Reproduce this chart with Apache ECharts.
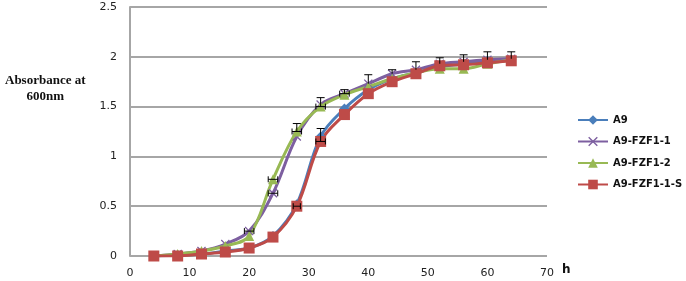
<!DOCTYPE html>
<html>
<head>
<meta charset="utf-8">
<script src="https://cdn.jsdelivr.net/npm/echarts@6/dist/echarts.min.js"></script>
<style>
  html, body { margin: 0; padding: 0; background: #fff; }
  #chart { width: 686px; height: 281px; }
</style>
</head>
<body>
<div id="chart"></div>
<script>
// sampling times (h)
var hours = [4, 8, 12, 16, 20, 24, 28, 32, 36, 40, 44, 48, 52, 56, 60, 64];

var a9       = [0, 0.01, 0.02, 0.05, 0.08, 0.2, 0.52, 1.2, 1.48, 1.67, 1.78, 1.84, 1.9, 1.93, 1.96, 1.97];
var fzf1_1   = [0, 0.02, 0.05, 0.12, 0.25, 0.63, 1.2, 1.52, 1.63, 1.73, 1.83, 1.87, 1.93, 1.95, 1.97, 1.98];
var fzf1_2   = [0, 0.02, 0.05, 0.1, 0.2, 0.77, 1.25, 1.5, 1.62, 1.7, 1.78, 1.84, 1.88, 1.88, 1.93, 1.97];
var fzf1_1s  = [0, 0, 0.02, 0.04, 0.08, 0.19, 0.5, 1.15, 1.42, 1.63, 1.75, 1.83, 1.91, 1.92, 1.94, 1.96];

// error bars: [hour, value, +yErr, ±xErr]
var errBars = [
  [20, 0.25, 0, 0.8],
  [24, 0.63, 0, 0.8],
  [24, 0.77, 0, 0.8],
  [28, 1.25, 0.08, 0.8],
  [28, 0.5, 0, 0.6],
  [32, 1.5, 0.09, 0.8],
  [32, 1.15, 0.13, 0.8],
  [36, 1.63, 0.04, 0.8],
  [40, 1.73, 0.09, 0],
  [44, 1.83, 0.04, 0],
  [48, 1.87, 0.08, 0],
  [52, 1.93, 0.06, 0],
  [56, 1.95, 0.07, 0],
  [60, 1.97, 0.08, 0],
  [64, 1.98, 0.07, 0]
];

var yTicks = { min: 0, max: 2.5, interval: 0.5 };
var xTicks = { min: 0, max: 70, interval: 10 };

function pairs(vals) {
  var out = [];
  for (var i = 0; i < hours.length; i++) out.push([hours[i], vals[i]]);
  return out;
}

var xMark = 'path://M0,1L1,0L5,4L9,0L10,1L6,5L10,9L9,10L5,6L1,10L0,9L4,5Z';

function lineSeries(name, vals, color, symbol, size) {
  return {
    name: name,
    type: 'line',
    data: pairs(vals),
    smooth: 0.35,
    symbol: symbol,
    symbolSize: size,
    lineStyle: { color: color, width: 3 },
    itemStyle: { color: color },
    emphasis: { disabled: true }
  };
}

var chart = echarts.init(document.getElementById('chart'));
chart.setOption({
  animation: false,
  grid: { left: 130, right: 139, top: 7, bottom: 25 },
  legend: {
    orient: 'vertical',
    left: 577,
    top: 115,
    padding: 0,
    itemWidth: 30,
    itemHeight: 12,
    itemGap: 11.5,
    textStyle: { fontFamily: 'DejaVu Sans', fontWeight: 'bold', fontSize: 10, color: '#111' },
    data: ['A9', 'A9-FZF1-1', 'A9-FZF1-2', 'A9-FZF1-1-S']
  },
  xAxis: {
    type: 'value',
    min: xTicks.min, max: xTicks.max, interval: xTicks.interval,
    axisLine: { show: false },
    axisTick: { show: false },
    splitLine: { show: false },
    axisLabel: { fontFamily: 'DejaVu Sans', fontSize: 11, color: '#222', margin: 12 }
  },
  yAxis: {
    type: 'value',
    min: yTicks.min, max: yTicks.max, interval: yTicks.interval,
    axisLine: { show: true, lineStyle: { color: '#a6a6a6', width: 2 } },
    axisTick: { show: false },
    splitLine: { show: true, lineStyle: { color: '#a6a6a6', width: 2 } },
    axisLabel: { fontFamily: 'DejaVu Sans', fontSize: 11, color: '#222', margin: 13 }
  },
  graphic: [
    { type: 'text', left: 5, top: 73,
      style: { text: 'Absorbance at\n600nm', textAlign: 'center', fill: '#111',
               font: 'bold 13px "Liberation Serif"', lineHeight: 16, x: 43 } },
    { type: 'text', left: 562, top: 264,
      style: { text: 'h', fill: '#111', font: 'bold 12px "DejaVu Sans"' } }
  ],
  series: [
    lineSeries('A9', a9, '#4a7ebb', 'diamond', 10),
    lineSeries('A9-FZF1-1', fzf1_1, '#7d5fa0', xMark, 9),
    lineSeries('A9-FZF1-2', fzf1_2, '#98b954', 'triangle', 10),
    lineSeries('A9-FZF1-1-S', fzf1_1s, '#be4b48', 'rect', 11),
    {
      type: 'custom',
      name: 'err',
      data: errBars,
      z: 5,
      silent: true,
      renderItem: function (params, api) {
        var x = api.value(0), y = api.value(1), ey = api.value(2), ex = api.value(3);
        var c = api.coord([x, y]);
        var kids = [];
        var st = { stroke: '#000', lineWidth: 1 };
        if (ey > 0) {
          var top = api.coord([x, y + ey]);
          kids.push({ type: 'line', shape: { x1: c[0], y1: c[1], x2: top[0], y2: top[1] }, style: st });
          kids.push({ type: 'line', shape: { x1: top[0] - 4, y1: top[1], x2: top[0] + 4, y2: top[1] }, style: st });
        }
        if (ex > 0) {
          var l = api.coord([x - ex, y]), r = api.coord([x + ex, y]);
          kids.push({ type: 'line', shape: { x1: l[0], y1: l[1], x2: r[0], y2: r[1] }, style: st });
          kids.push({ type: 'line', shape: { x1: l[0], y1: l[1] - 3, x2: l[0], y2: l[1] + 3 }, style: st });
          kids.push({ type: 'line', shape: { x1: r[0], y1: r[1] - 3, x2: r[0], y2: r[1] + 3 }, style: st });
        }
        return { type: 'group', children: kids };
      }
    }
  ]
});
</script>
</body>
</html>
